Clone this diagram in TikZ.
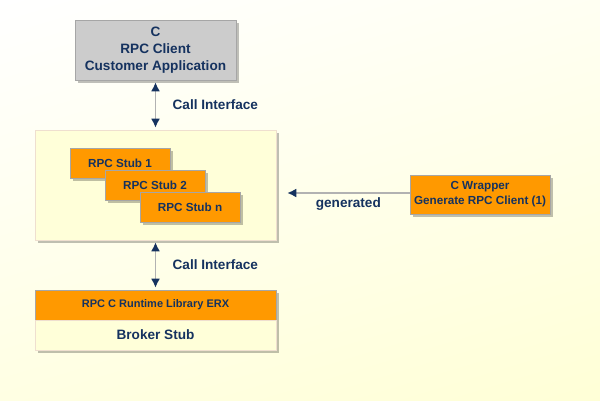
\documentclass[tikz,border=0pt]{standalone}
\usepackage{fontspec}
\setmainfont{Liberation Sans}
\usepackage{xcolor}
\usetikzlibrary{positioning, arrows.meta, shadows, shadings}

\definecolor{navy}{HTML}{15325F}
\definecolor{stuborange}{HTML}{FF9900}
\definecolor{cream}{HTML}{FFFFD9}
\definecolor{clientgray}{HTML}{CCCCCC}

\begin{document}
\begin{tikzpicture}[
    x=1pt, y=1pt,
    box/.style = {
        rectangle, draw=gray!70, line width=0.6pt, align=center,
        font=\fontsize{13.6}{17}\selectfont\bfseries, text=navy,
        drop shadow={shadow xshift=3pt, shadow yshift=-3pt, opacity=0.25, fill=black}
    },
    stub/.style = {
        box, fill=stuborange, minimum width=100pt, minimum height=30pt,
        font=\fontsize{11.7}{15}\selectfont\bfseries
    },
    arrow/.style = {
        {Latex[length=9pt, width=9pt, color=navy]}-{Latex[length=9pt, width=9pt, color=navy]},
        line width=1.6pt, color=gray!60
    },
    onearrow/.style = {
        -{Latex[length=9pt, width=9pt, color=navy]},
        line width=1.6pt, color=gray!60
    },
    label/.style = {
        font=\fontsize{13.6}{16}\selectfont\bfseries, text=navy
    }
]

% Background
\useasboundingbox (0,0) rectangle (600,400);
\begin{scope}
\clip (0,0) rectangle (600,400);
\shade[upper left=white, upper right=yellow!5, lower left=yellow!11, lower right=yellow!16]
    (0,0) rectangle (600,400);
\end{scope}

% Client application
\node[box, fill=clientgray, minimum width=161pt, minimum height=60pt]
    (client) at (155.5, 350) {C\\RPC Client\\Customer Application};

% Container with stubs
\node[box, fill=cream, draw=brown!25, minimum width=241pt, minimum height=110pt]
    (stubs) at (155.5, 215) {};
\node[stub] (stub1) at (120, 237) {RPC Stub 1};
\node[stub] (stub2) at (155, 215) {RPC Stub 2};
\node[stub] (stubn) at (190, 193) {RPC Stub n};

% Wrapper
\node[stub, minimum width=140pt, minimum height=39pt]
    (wrapper) at (480, 205.5) {C Wrapper\\Generate RPC Client (1)};

% Runtime library and broker stub
\node[box, fill=stuborange, minimum width=241pt, minimum height=30pt,
      font=\fontsize{11}{13}\selectfont\bfseries]
    (lib) at (155.5, 95) {RPC C Runtime Library ERX};
\node[box, fill=cream, draw=brown!25, minimum width=241pt, minimum height=30pt]
    (broker) at (155.5, 65) {Broker Stub};

% Connectors
\draw[arrow, shorten <=2pt, shorten >=2pt] (client.south) --
    node[label, right=13pt] {Call Interface} (stubs.north);
\draw[arrow, shorten <=2pt, shorten >=2pt] (stubs.south) --
    node[label, right=13pt] {Call Interface} (lib.north);
\draw[onearrow, shorten >=11pt]
    (wrapper.west |- 0,207) -- node[label, below=1pt, pos=0.46] {generated}
    (stubs.east |- 0,207);

\end{tikzpicture}
\end{document}
